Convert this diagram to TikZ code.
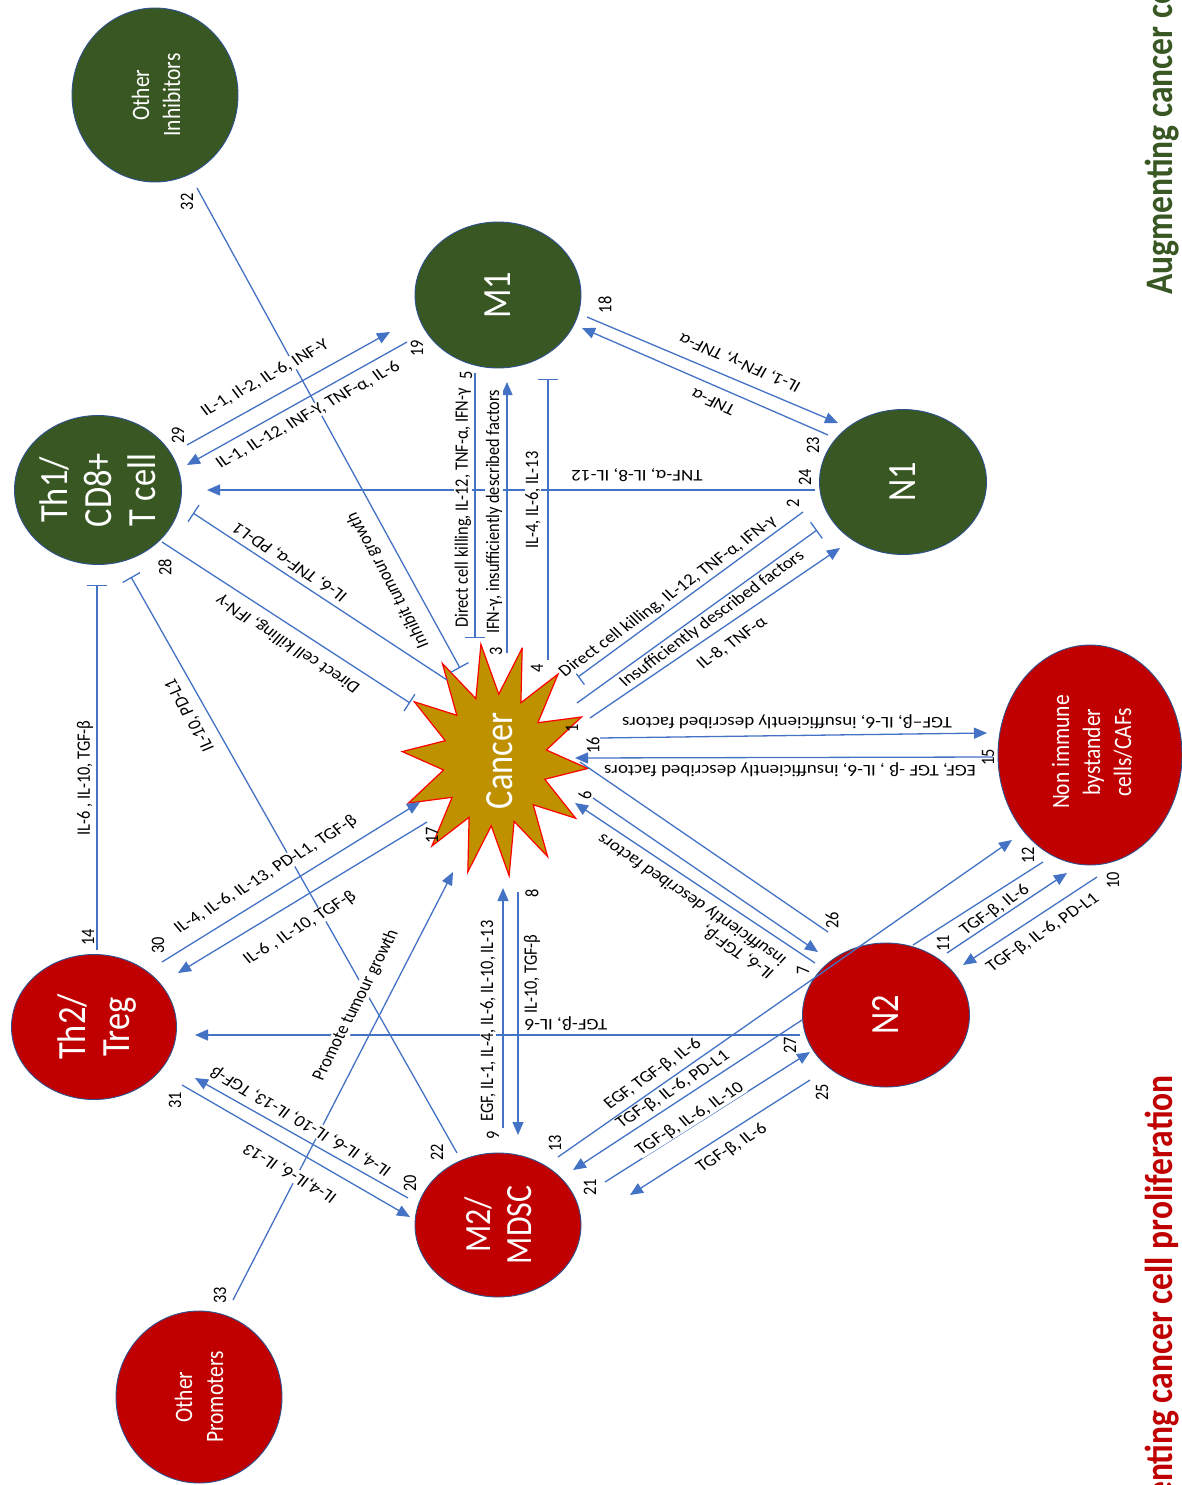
\documentclass[tikz,border=0pt]{standalone}
\usepackage{fontspec}
\setmainfont{Carlito}
\usetikzlibrary{arrows.meta,shapes.geometric}
\definecolor{lblue}{HTML}{4472C4}
\definecolor{dgreen}{HTML}{385723}
\definecolor{dred}{HTML}{C00000}
\definecolor{cgold}{HTML}{BF9000}
\definecolor{rim}{HTML}{2F528F}
\tikzset{
  gcell/.style={ellipse, draw=rim, line width=0.9pt, fill=dgreen, inner sep=0pt},
  rcell/.style={ellipse, draw=rim, line width=0.9pt, fill=dred, inner sep=0pt},
  ttl/.style={text=white, yscale=0.86, rotate=90, align=center, inner sep=0pt},
  big/.style={font=\fontsize{40}{44}\selectfont},
  small/.style={font=\fontsize{25}{31}\selectfont},
  lab/.style={font=\fontsize{19}{20}\selectfont, fill=white, inner sep=0.5pt, yscale=0.86},
  num/.style={font=\fontsize{19}{20}\selectfont, inner sep=0pt, yscale=0.86, rotate=90},
  con/.style={draw=lblue, line width=1.3pt},
  arr/.style={con, -{Triangle[length=13pt,width=11pt]}},
  inh/.style={con, -{Bar[width=20pt]}},
  side/.style={font=\fontsize{39}{40}\bfseries\selectfont, inner sep=0pt, yscale=0.86, rotate=90}
}
\newcommand\conn[4]{\coordinate (#1s) at #2; \coordinate (#1e) at #3; \draw[#4] (#1s) -- (#1e);}
\begin{document}
\begin{tikzpicture}[x=1pt,y=-1pt]
\path[use as bounding box, fill=white] (0,0) rectangle (1182,1485);
\clip (0,0) rectangle (1182,1485);
% cells
\node[gcell, minimum width=166pt, minimum height=174pt] (inh) at (155,95) {};
\node[gcell, minimum width=166pt, minimum height=146pt] (m1) at (498,295) {};
\node[gcell, minimum width=167pt, minimum height=149pt] (th1) at (98,490) {};
\node[gcell, minimum width=167pt, minimum height=145pt] (n1) at (903,482) {};
\node[rcell, minimum width=184pt, minimum height=220pt] (nib) at (1090,755) {};
\node[rcell, minimum width=165pt, minimum height=145pt] (th2) at (94,1027) {};
\node[rcell, minimum width=167pt, minimum height=144pt] (n2) at (886,1015) {};
\node[rcell, minimum width=166pt, minimum height=144pt] (m2) at (498,1225) {};
\node[rcell, minimum width=166pt, minimum height=172pt] (pro) at (199,1397) {};
% star
\filldraw[fill=cgold, draw=red, line width=1.2pt] ({495+93*cos(-73)},{760+117*sin(-73)})
  \foreach \k in {0,...,13} { -- ({495+52*cos(-73+25.714*\k+12.857)},{760+66*sin(-73+25.714*\k+12.857)})
  -- ({495+93*cos(-73+25.714*(\k+1))},{760+117*sin(-73+25.714*(\k+1))}) } -- cycle;
% connectors
\conn{c32}{(197,188)}{(460,668)}{inh}
\conn{c29}{(187,445)}{(390,332)}{arr}
\conn{c19}{(407,342)}{(187,465)}{arr}
\conn{c18}{(587,317)}{(838,423)}{arr}
\conn{c23}{(828,435)}{(582,328)}{arr}
\conn{c24}{(815,490)}{(207,490)}{arr}
\conn{c5}{(475,373)}{(475,638)}{inh}
\conn{c3}{(507,653)}{(507,382)}{arr}
\conn{c4}{(548,660)}{(548,379)}{inh}
\conn{c2}{(803,512)}{(578,677)}{inh}
\conn{cin}{(577,703)}{(817,530)}{inh}
\conn{c1}{(590,718)}{(840,548)}{arr}
\conn{c16}{(600,738)}{(987,733)}{arr}
\conn{c15}{(993,757)}{(575,758)}{arr}
\conn{c6}{(593,798)}{(818,952)}{arr}
\conn{c7}{(815,963)}{(575,803)}{arr}
\conn{c26}{(828,932)}{(580,762)}{con}
\conn{c28}{(162,542)}{(410,703)}{inh}
\conn{cpd}{(447,680)}{(193,513)}{inh}
\conn{c22}{(457,1153)}{(131,577)}{inh}
\conn{c14}{(97,950)}{(97,585)}{inh}
\conn{c30}{(162,962)}{(420,802)}{arr}
\conn{c17}{(427,822)}{(178,973)}{arr}
\conn{c33}{(233,1300)}{(453,872)}{arr}
\conn{c9}{(503,1128)}{(503,888)}{arr}
\conn{c8}{(518,892)}{(518,1135)}{arr}
\conn{cnt}{(800,1035)}{(195,1035)}{arr}
\conn{c13}{(558,1157)}{(1012,840)}{arr}
\conn{c27}{(802,1020)}{(573,1170)}{arr}
\conn{c21}{(605,1182)}{(810,1052)}{arr}
\conn{c25}{(810,1080)}{(630,1195)}{arr}
\conn{c12}{(913,945)}{(1043,862)}{con}
\conn{c11}{(947,953)}{(1067,873)}{arr}
\conn{c10}{(1097,877)}{(963,965)}{arr}
\conn{c31}{(182,1085)}{(410,1217)}{arr}
\conn{c20}{(408,1198)}{(195,1078)}{arr}
% labels
\node[lab, rotate=32.8] (l29) at (265,378) {IL-1, Il-2, IL-6, INF-Y};
\node[lab, rotate=32.8] (l19) at (308,415) {IL-1, IL-12, INF-Y, TNF-α, IL-6};
\node[lab, rotate=153.8] (l18) at (740,362) {IL-1, IFN-γ, TNF-α};
\node[lab, rotate=153.8] (l23) at (713,402) {TNF-α};
\node[lab, rotate=180] (l24) at (637,475) {TNF-α, IL-8, IL-12};
\node[lab, rotate=90] (l5) at (463,508) {Direct cell killing, IL-12, TNF-α, IFN-γ};
\node[lab, rotate=90] (l3) at (494,512) {IFN-γ, insufficiently described factors};
\node[lab, rotate=90] (l4) at (533,500) {IL-4, IL-6, IL-13};
\node[lab, rotate=40.2] (l2) at (668,597) {Direct cell killing, IL-12, TNF-α, IFN-γ};
\node[lab, rotate=40] (lin) at (712,619) {Insufficiently described factors};
\node[lab, rotate=39] (l1) at (732,643) {IL-8, TNF-α};
\node[lab, rotate=180] (l16) at (787,722) {TGF−β, IL-6, insufficiently described factors};
\node[lab, rotate=180] (l15) at (790,770) {EGF, TGF -β , IL-6, insufficiently described factors};
\node[lab, rotate=141.9, align=left] (l7) at (686,906) {IL-6, TGF-β,\\insufficiently described factors};
\node[lab, rotate=143] (lpd) at (290,562) {IL-6, TNF-α, PD-L1};
\node[lab, rotate=143] (l28) at (288,644) {Direct cell killing, IFN-γ};
\node[lab, rotate=115.2] (lih) at (388,580) {Inhibit tumour growth};
\node[lab, rotate=116] (l22) at (190,715) {IL-10, PD-L1};
\node[lab, rotate=90] (l14) at (85,778) {IL-6 , IL-10, TGF-β};
\node[lab, rotate=35.8] (l30) at (266,875) {IL-4, IL-6, IL-13, PD-L1, TGF-β};
\node[lab, rotate=35.5] (l17) at (300,928) {IL-6 , IL-10, TGF-β};
\node[lab, rotate=66.3] (lpr) at (356,1005) {Promote tumour growth};
\node[lab, rotate=90] (l9) at (488,1021) {EGF, IL-1, IL-4, IL-6, IL-10, IL-13};
\node[lab, rotate=90] (l8) at (532,974) {IL-10, TGF-β};
\node[lab, rotate=180] (lnt) at (566,1024) {TGF-β, IL-6};
\node[lab, rotate=39.2] (l13) at (653,1074) {EGF, TGF-β, IL-6};
\node[lab, rotate=37] (l27) at (673,1090) {TGF-β, IL-6, PD-L1};
\node[lab, rotate=36.5] (l21) at (690,1119) {TGF-β, IL-6, IL-10};
\node[lab, rotate=36.5] (l25) at (732,1148) {TGF-β, IL-6};
\node[lab, rotate=38.1] (l11) at (995,910) {TGF-β, IL-6};
\node[lab, rotate=37.6] (l10) at (1043,933) {TGF-β, IL-6, PD-L1};
\node[lab, rotate=146.1] (l20) at (301,1121) {IL-4, IL-6, IL-10, IL-13, TGF-β};
\node[lab, rotate=146.1] (l31) at (290,1173) {IL-4,IL-6, IL-13};
% numbers
\foreach \t/\x/\y in {32/187/202, 29/178/435, 19/417/348, 18/605/305, 23/813/445, 24/805/477,
  5/466/375, 3/496/651, 4/537/668, 2/793/503, 1/572/728, 16/593/745, 15/988/757, 6/585/795,
  7/803/970, 26/832/920, 28/165/567, 14/88/937, 30/158/945, 17/432/835, 22/437/1152, 9/493/1135,
  8/532/893, 13/555/1143, 21/590/1187, 27/790/1045, 25/822/1092, 11/943/943, 12/1028/855,
  10/1113/880, 31/175/1100, 20/410/1183, 33/220/1295}
  \node[num] (n\t) at (\x,\y) {\t};
% cell titles
\node[ttl, small] (inht) at (156,95) {Other\\Inhibitors};
\node[ttl, big] (m1t) at (498,295) {M1};
\node[ttl, big] (th1t) at (98,490) {Th1/\\CD8+\\T cell};
\node[ttl, big] (n1t) at (903,482) {N1};
\node[ttl, small] (nibt) at (1092,752) {Non immune\\bystander\\cells/CAFs};
\node[ttl, big] (cant) at (500,761) {Cancer};
\node[ttl, big] (th2t) at (97,1027) {Th2/\\Treg};
\node[ttl, big] (n2t) at (886,1015) {N2};
\node[ttl, font=\fontsize{37}{41}\selectfont] (m2t) at (498,1225) {M2/\\MDSC};
\node[ttl, small] (prot) at (199,1397) {Other\\Promoters};
% side captions
\node[side, anchor=west, text=dgreen] (aug1) at (1162,295) {Augmenting cancer cell death};
\node[side, anchor=east, text=dred] (aug2) at (1162,1075) {Augmenting cancer cell proliferation};
\end{tikzpicture}
\end{document}
